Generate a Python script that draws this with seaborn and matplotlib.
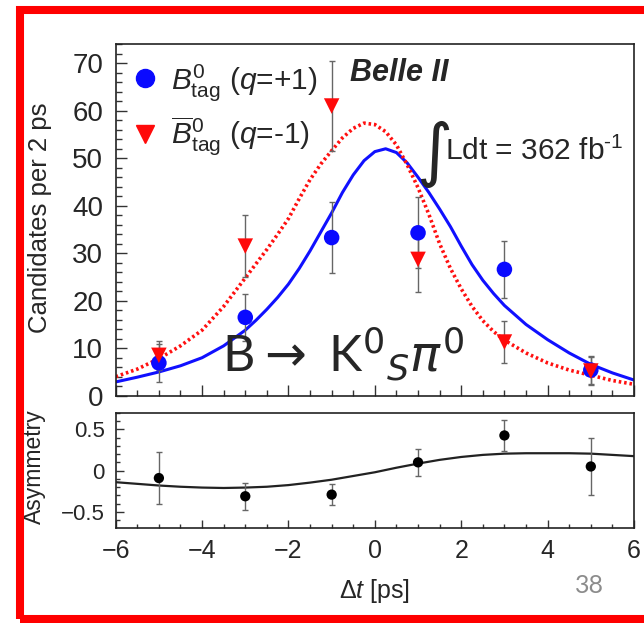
import numpy as np
import pandas as pd
import matplotlib
matplotlib.use('Agg')
import matplotlib.pyplot as plt
from matplotlib.lines import Line2D
from matplotlib.patches import Rectangle
from matplotlib.ticker import MultipleLocator
import seaborn as sns

# data
dt_bins = [-5, -3, -1, 1, 3, 5]
n_b0 = [6.9, 16.5, 33.3, 34.3, 26.6, 5.4]
n_b0_err = [4.0, 5.0, 7.5, 7.5, 6.0, 3.0]
n_b0bar = [8.5, 31.5, 61.0, 28.7, 11.3, 5.2]
n_b0bar_err = [3.0, 6.5, 9.5, 6.8, 4.4, 3.0]

asym = [-0.09, -0.31, -0.29, 0.10, 0.425, 0.05]
asym_err = [0.31, 0.165, 0.125, 0.16, 0.19, 0.35]

# fit projections
t_fit = [-6, -5.5, -5, -4.5, -4, -3.5, -3, -2.75, -2.5, -2.25, -2, -1.75, -1.5, -1.25, -1,
         -0.75, -0.5, -0.25, 0, 0.25, 0.5, 0.75, 1, 1.25, 1.5, 1.75, 2, 2.25, 2.5, 2.75, 3,
         3.5, 4, 4.5, 5, 5.5, 6]
b0_fit = [2.9, 3.9, 5.0, 6.3, 8.0, 10.5, 13.8, 15.9, 18.2, 20.7, 23.5, 26.8, 30.5, 34.5, 38.5,
          42.8, 46.5, 49.5, 51.4, 52.0, 51.2, 49.0, 46.0, 42.8, 39.3, 35.6, 31.5, 27.6, 24.3, 21.5, 19.0,
          15.0, 11.8, 9.0, 6.6, 4.8, 3.3]
b0bar_fit = [4.0, 5.6, 7.8, 10.5, 13.8, 18.8, 24.8, 27.8, 30.8, 34.0, 37.3, 41.5, 45.5, 48.8, 51.6,
             54.3, 56.3, 57.4, 57.1, 55.6, 52.8, 48.6, 43.8, 38.2, 32.0, 26.8, 22.5, 18.8, 15.8, 13.5, 11.7,
             9.0, 6.9, 5.4, 4.3, 3.2, 2.4]
t_asym_fit = [-6, -5.5, -5, -4.5, -4, -3.5, -3, -2.5, -2, -1.5, -1, -0.5, 0, 0.5, 1, 1.5, 2,
              2.5, 3, 3.5, 4, 4.5, 5, 5.5, 6]
asym_fit = [-0.14, -0.16, -0.18, -0.195, -0.205, -0.21, -0.205, -0.195, -0.175, -0.145, -0.11,
            -0.065, -0.02, 0.035, 0.085, 0.13, 0.165, 0.19, 0.205, 0.21, 0.21, 0.21, 0.205, 0.19, 0.175]

sns.set_theme(style='ticks')
plt.rcParams['font.family'] = ['Liberation Sans', 'DejaVu Sans']
plt.rcParams['mathtext.fontset'] = 'custom'
plt.rcParams['mathtext.rm'] = 'Liberation Sans'
plt.rcParams['mathtext.it'] = 'Liberation Sans:italic'
plt.rcParams['mathtext.bf'] = 'Liberation Sans:bold'

fig = plt.figure(figsize=(6.44, 6.23), dpi=100)
W, H = 644, 623
ax = fig.add_axes([115.7 / W, 1 - 395.7 / H, (634 - 115.7) / W, (395.7 - 44.3) / H])
ax2 = fig.add_axes([115.7 / W, 1 - 527.7 / H, (634 - 115.7) / W, (527.7 - 412.7) / H])

df = pd.DataFrame({'dt': dt_bins, 'b0': n_b0, 'b0bar': n_b0bar, 'asym': asym})
fits = pd.DataFrame({'t': t_fit, 'b0': b0_fit, 'b0bar': b0bar_fit})

# top panel
sns.lineplot(data=fits, x='t', y='b0', ax=ax, color='#1010ff', lw=2.2, sort=False)
sns.lineplot(data=fits, x='t', y='b0bar', ax=ax, color='#ff1010', lw=2.6,
             linestyle=(0, (0.7, 0.8)), sort=False)
ax.errorbar(dt_bins, n_b0, yerr=n_b0_err, fmt='none', ecolor='#666666', elinewidth=1,
            capsize=2.5, capthick=1)
ax.errorbar(dt_bins, n_b0bar, yerr=n_b0bar_err, fmt='none', ecolor='#666666', elinewidth=1,
            capsize=2.5, capthick=1)
sns.scatterplot(data=df, x='dt', y='b0', ax=ax, color='#0a0aff', marker='o', s=125,
                edgecolor='none', zorder=5)
sns.scatterplot(data=df, x='dt', y='b0bar', ax=ax, color='#ff0a0a', marker='v', s=125,
                edgecolor='none', zorder=6)

ax.set_xlim(-6, 6)
ax.set_ylim(0, 74)
ax.set_xlabel('')
ax.set_ylabel('Candidates per 2 ps', fontsize=18.5)
ax.yaxis.set_label_coords(-0.123, 0.505)
ax.xaxis.set_major_locator(MultipleLocator(2))
ax.xaxis.set_minor_locator(MultipleLocator(0.5))
ax.yaxis.set_major_locator(MultipleLocator(10))
ax.yaxis.set_minor_locator(MultipleLocator(2))
ax.tick_params(which='both', direction='in', top=False, right=False, width=1, color='#333333')
ax.tick_params(which='major', length=8, labelsize=20, pad=9)
ax.tick_params(which='minor', length=4)
ax.tick_params(axis='x', labelbottom=False)

handles = [Line2D([], [], marker='o', color='#0a0aff', ls='none', ms=13),
           Line2D([], [], marker='v', color='#ff0a0a', ls='none', ms=13)]
labels = [r'$B^0_{\mathrm{tag}}$ ($q$=+1)', r'$\overline{B}^0_{\mathrm{tag}}$ ($q$=-1)']
ax.legend(handles, labels, loc='upper left', bbox_to_anchor=(0.005, 0.985), frameon=False,
          fontsize=21.5, handlelength=1.0, handletextpad=0.35, labelspacing=0.42,
          borderaxespad=0)

ax.text(-0.58, 66.2, 'Belle II', fontsize=22, fontweight='bold', fontstyle='italic',
        ha='left', va='baseline')
ax.text(1.80, 50.9, '∫', family='DejaVu Sans', fontsize=50, ha='right', va='center')
ax.text(1.62, 49.7, 'Ldt = 362 fb$^{\u20101}$', fontsize=21.5, ha='left', va='baseline')
ax.text(-3.53, 5.0, r'B$\rightarrow$ K$^0{}_\mathit{S}\pi^0$', family=['Lato', 'DejaVu Sans'],
        math_fontfamily='dejavusans', fontsize=36, ha='left', va='baseline', zorder=7)

# bottom panel
sns.lineplot(x=t_asym_fit, y=asym_fit, ax=ax2, color='#222222', lw=1.6, sort=False)
ax2.errorbar(dt_bins, asym, yerr=asym_err, fmt='none', ecolor='#666666', elinewidth=1,
             capsize=2.5, capthick=1)
sns.scatterplot(data=df, x='dt', y='asym', ax=ax2, color='black', marker='o', s=55,
                edgecolor='none', zorder=5)
ax2.set_xlim(-6, 6)
ax2.set_ylim(-0.69, 0.70)
ax2.set_xlabel(r'$\Delta t$ [ps]', fontsize=18)
ax2.xaxis.set_label_coords(0.5, -0.43)
ax2.set_ylabel('Asymmetry', fontsize=16.5)
ax2.yaxis.set_label_coords(-0.134, 0.53)
ax2.xaxis.set_minor_locator(MultipleLocator(0.5))
ax2.yaxis.set_minor_locator(MultipleLocator(0.1))
ax2.set_yticks([-0.5, 0, 0.5])
ax2.set_yticklabels(['\u22120.5', '0', '0.5'])
ax2.set_xticks([-6, -4, -2, 0, 2, 4, 6])
ax2.set_xticklabels(['\u22126', '\u22124', '\u22122', '0', '2', '4', '6'])
ax2.tick_params(which='both', direction='in', top=False, right=False, width=1, color='#333333')
ax2.tick_params(which='major', length=6, pad=8)
ax2.tick_params(axis='y', labelsize=16)
ax2.tick_params(axis='x', labelsize=18)
ax2.tick_params(which='minor', length=3)

for a in (ax, ax2):
    for s in a.spines.values():
        s.set_linewidth(1.2)
        s.set_color('#222222')

fig.text(575 / W, 1 - 593.3 / H, '38', family='Lato', fontsize=18, color='#8c8c8c',
         ha='left', va='baseline')
fig.patches.append(Rectangle((20 / W, 1 - 618.5 / H), 1.1, (618.5 - 10) / H,
                             transform=fig.transFigure, fill=False, ec='#ff0000',
                             lw=5.8, clip_on=False))

fig.savefig('out.png', dpi=100)
